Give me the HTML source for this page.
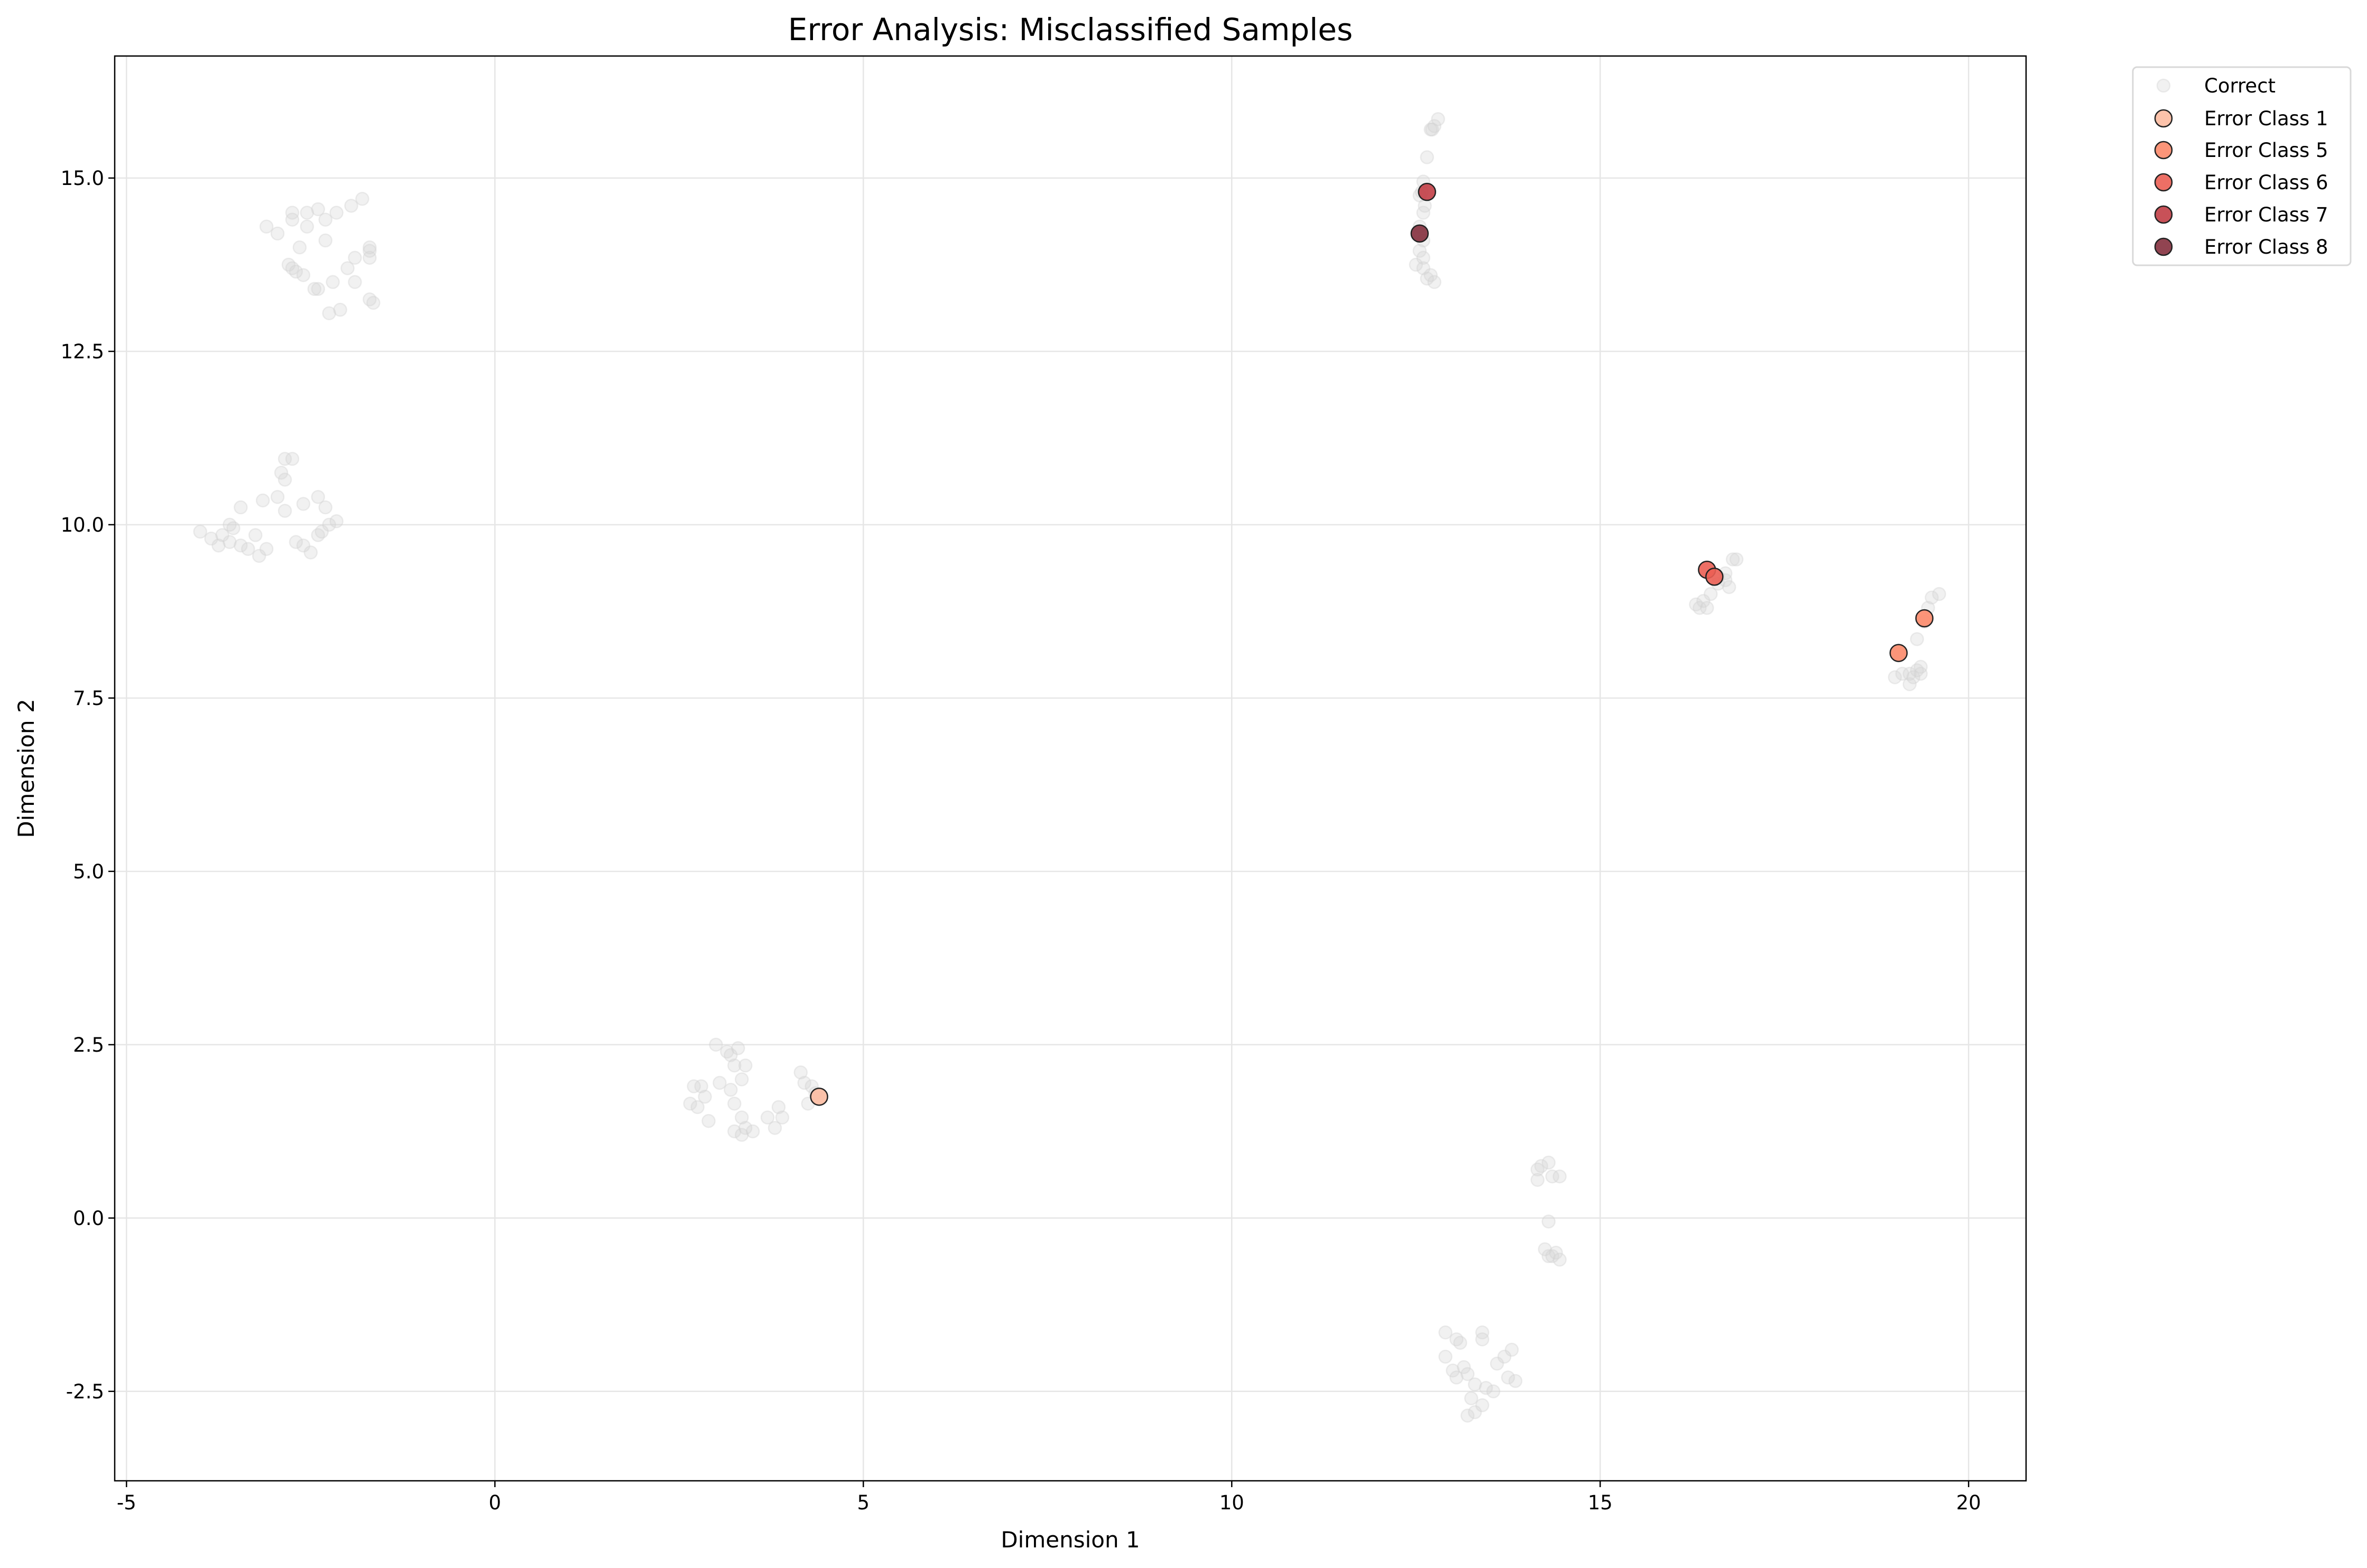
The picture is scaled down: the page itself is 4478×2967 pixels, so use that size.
<!DOCTYPE html>
<html><head><meta charset="utf-8"><style>
html,body{margin:0;padding:0;background:#fff}
svg{display:block;font-family:"DejaVu Sans","Liberation Sans",sans-serif}
</style></head><body>
<svg id="chart" width="4478" height="2967" viewBox="0 0 4478 2967" xmlns="http://www.w3.org/2000/svg">
<rect width="4478" height="2967" fill="#fff"/>
<g id="grid"></g>
<g id="points"></g>
<rect x="217" y="106" width="3616" height="2696" fill="none" stroke="#000" stroke-width="2.5"/>
<g id="ticks"></g>
<text x="2025" y="76" font-size="58" text-anchor="middle">Error Analysis: Misclassified Samples</text>
<text x="2025" y="2928" font-size="42" text-anchor="middle">Dimension 1</text>
<text x="64" y="1454" font-size="42" text-anchor="middle" transform="rotate(-90 64 1454)">Dimension 2</text>
<g id="legend">
<rect x="4035" y="127" width="412" height="375" rx="8" fill="#fff" stroke="#d8d8d8" stroke-width="3"/>
</g>
</svg>
<script>
const xTicks=[-5,0,5,10,15,20];
const yTicks=[-2.5,0,2.5,5,7.5,10,12.5,15];
const yTickLabels=["-2.5","0.0","2.5","5.0","7.5","10.0","12.5","15.0"];
const correctX=[-3.1,-2.95,-2.75,-2.55,-2.4,-2.3,-2.15,-1.95,-1.8,-2.75,-2.55,-2.65,-2.3,-2.8,-2.7,-2.6,-2.4,-2.2,-1.9,-1.9,-1.7,-1.7,-2.25,-2.1,-1.7,-1.65,-2.45,-2.0,-2.75,-1.7,
-4.0,-3.85,-3.75,-3.6,-3.55,-3.6,-3.45,-3.35,-3.25,-3.2,-3.1,-3.45,-3.15,-2.95,-2.85,-2.9,-2.85,-2.75,-2.85,-2.6,-2.4,-2.3,-2.25,-2.15,-2.4,-2.5,-2.6,-2.7,-3.7,-2.35,
2.65,2.75,2.8,2.85,2.9,3.0,3.05,3.15,3.2,3.25,3.3,3.35,3.4,3.2,3.25,3.35,3.5,3.35,3.25,3.7,3.8,3.85,3.9,4.15,4.2,4.3,4.35,4.25,3.4,2.7,
12.7,12.75,12.8,12.65,12.6,12.55,12.6,12.55,12.6,12.55,12.5,12.6,12.65,12.75,12.7,12.62,12.72,12.58,12.55,12.6,
16.3,16.35,16.45,16.5,16.6,16.7,16.75,16.8,16.85,16.6,16.7,16.4,
19.0,19.1,19.2,19.25,19.3,19.35,19.3,19.4,19.5,19.6,19.2,19.35,19.45,
14.2,14.15,14.3,14.35,14.45,14.15,14.3,14.25,14.3,14.4,14.45,14.35,
12.9,13.05,13.1,13.4,13.4,13.8,13.7,13.6,12.9,13.0,13.05,13.15,13.2,13.3,13.45,13.55,13.75,13.85,13.2,13.3,13.4,13.25];
const correctY=[14.3,14.2,14.5,14.5,14.55,14.4,14.5,14.6,14.7,14.4,14.3,14.0,14.1,13.75,13.65,13.6,13.4,13.5,13.85,13.5,14.0,13.85,13.05,13.1,13.25,13.2,13.4,13.7,13.7,13.95,
9.9,9.8,9.7,9.75,9.95,10.0,9.7,9.65,9.85,9.55,9.65,10.25,10.35,10.4,10.2,10.75,10.95,10.95,10.65,10.3,10.4,10.25,10.0,10.05,9.85,9.6,9.7,9.75,9.85,9.9,
1.65,1.6,1.9,1.75,1.4,2.5,1.95,2.4,2.35,2.2,2.45,2.0,2.2,1.85,1.25,1.2,1.25,1.45,1.65,1.45,1.3,1.6,1.45,2.1,1.95,1.9,1.8,1.65,1.3,1.9,
15.7,15.75,15.85,15.3,14.95,14.75,14.5,14.3,14.1,13.95,13.75,13.7,13.55,13.5,13.6,14.6,15.7,14.8,14.2,13.85,
8.85,8.8,8.8,9.0,9.15,9.3,9.1,9.5,9.5,9.25,9.2,8.9,
7.8,7.85,7.7,7.8,7.9,7.95,8.35,8.6,8.95,9.0,7.85,7.85,8.8,
0.75,0.7,0.8,0.6,0.6,0.55,-0.05,-0.45,-0.55,-0.5,-0.6,-0.55,
-1.65,-1.75,-1.8,-1.65,-1.75,-1.9,-2.0,-2.1,-2.0,-2.2,-2.3,-2.15,-2.25,-2.4,-2.45,-2.5,-2.3,-2.35,-2.85,-2.8,-2.7,-2.6];
const errorClasses=["Error Class 1","Error Class 5","Error Class 6","Error Class 7","Error Class 8"];
const errorColors=["#fcbba1","#fc8a6a","#eb5f54","#c23e46","#85303e"];
const errClassIdx=[0,1,1,2,2,3,4];
const errX=[4.4,19.05,19.4,16.45,16.55,12.65,12.55];
const errY=[1.75,8.15,8.65,9.35,9.25,14.8,14.2];

const NS="http://www.w3.org/2000/svg";
const L=217,R=3833,T=106,B=2802,X0=-5.16,X1=20.78,Y0=-3.79,Y1=16.76;
const sx=v=>L+(v-X0)/(X1-X0)*(R-L);
const sy=v=>B-(v-Y0)/(Y1-Y0)*(B-T);
function mk(tag,attrs,parent){const e=document.createElementNS(NS,tag);for(const k in attrs)e.setAttribute(k,attrs[k]);parent.appendChild(e);return e;}
const grid=document.getElementById('grid'),ticks=document.getElementById('ticks'),pts=document.getElementById('points'),leg=document.getElementById('legend');
xTicks.forEach(v=>{
  const g=mk('line',{x1:sx(v),x2:sx(v),y1:T,y2:B,stroke:'#e6e6e6','stroke-width':2.5},grid);
  
  
  const t=mk('line',{x1:sx(v),x2:sx(v),y1:B,y2:B+12,stroke:'#000','stroke-width':2.5},ticks);
  
  
  const l=mk('text',{x:sx(v),y:B+54,'font-size':37,'text-anchor':'middle'},ticks);
  l.textContent=String(v);
  
  
});
yTicks.forEach((v,i)=>{
  const g=mk('line',{x1:L,x2:R,y1:sy(v),y2:sy(v),stroke:'#e6e6e6','stroke-width':2.5},grid);
  
  
  const t=mk('line',{x1:L-12,x2:L,y1:sy(v),y2:sy(v),stroke:'#000','stroke-width':2.5},ticks);
  
  
  const l=mk('text',{x:L-20,y:sy(v)+13,'font-size':37,'text-anchor':'end'},ticks);
  l.textContent=yTickLabels[i];
  
  
});
correctX.forEach((x,i)=>{
  const c=mk('circle',{cx:sx(x),cy:sy(correctY[i]),r:12,fill:'#d3d3d3','fill-opacity':0.32,stroke:'#d3d3d3','stroke-opacity':0.4,'stroke-width':2.5},pts);
  
  
});
errX.forEach((x,i)=>{
  const c=mk('circle',{cx:sx(x),cy:sy(errY[i]),r:16,fill:errorColors[errClassIdx[i]],'fill-opacity':0.9,stroke:'#222','stroke-width':2.5},pts);
  
  
});
const rowY=[162,224,284,345,406,467];
const lc=mk('circle',{cx:4093,cy:rowY[0],r:12,fill:'#d3d3d3','fill-opacity':0.32,stroke:'#d3d3d3','stroke-opacity':0.4,'stroke-width':2.5},leg);


const lt=mk('text',{x:4170,y:rowY[0]+13,'font-size':37},leg);
lt.textContent='Correct';


errorClasses.forEach((n,i)=>{
  const c=mk('circle',{cx:4093,cy:rowY[i+1],r:16,fill:errorColors[i],'fill-opacity':0.9,stroke:'#222','stroke-width':2.5},leg);
  
  
  const t=mk('text',{x:4170,y:rowY[i+1]+13,'font-size':37},leg);
  t.textContent=n;
  
  
});
</script>
</body></html>
